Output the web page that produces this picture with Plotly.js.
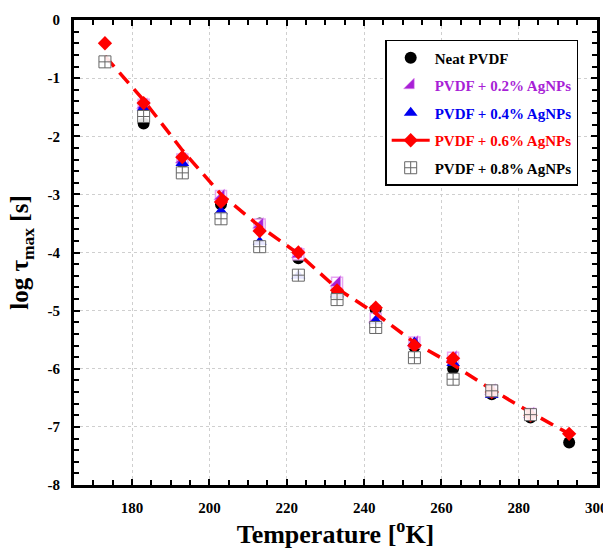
<!DOCTYPE html>
<html>
<head>
<meta charset="utf-8">
<script src="https://cdn.plot.ly/plotly-3.0.1.min.js"></script>
<style>html,body{margin:0;padding:0;background:#fff;}#chart{width:603px;height:551px;}</style>
</head>
<body>
<div id="chart"></div>
<script>
// Temperatures [K]
const tempsAll = [173,183,193,203,213,223,233,243,253,263,273,283,293];
const tempsNeat = [183,193,203,213,223,233,243,253,263,273,283,293];
const tempsP02 = [183,193,203,213,223,233,243,253,263,273,283];
const tempsP04 = [183,193,203,213,223,233,243,253,263,273];
const tempsP06 = [173,183,193,203,213,223,233,243,253,263,273,283,293];
const tempsP08 = [173,183,193,203,213,223,233,243,253,263,273,283];

// log tau_max [s]
const neatPVDF = [-1.78,-2.45,-3.17,-3.50,-4.10,-4.72,-4.98,-5.62,-6.00,-6.44,-6.84,-7.27];
const pvdf02 = [-1.46,-2.40,-3.03,-3.52,-4.03,-4.52,-5.14,-5.55,-5.81,-6.38,-6.78];
const pvdf04 = [-1.51,-2.46,-3.29,-3.82,-4.40,-4.72,-5.18,-5.55,-5.90,-6.45];
const pvdf06 = [-0.40,-1.43,-2.36,-3.13,-3.63,-4.00,-4.65,-4.95,-5.60,-5.82,-6.40,-6.80,-7.12];
const pvdf08 = [-0.72,-1.66,-2.63,-3.42,-3.90,-4.39,-4.81,-5.29,-5.81,-6.18,-6.38,-6.79];
const fitLine06 = [-0.62,-1.38,-2.24,-3.00,-3.55,-4.02,-4.62,-5.05,-5.55,-5.93,-6.36,-6.75,-7.12];

// Tick labels
const xTickVals = [180,200,220,240,260,280,300];
const xTickText = ['180','200','220','240','260','280','300'];
const yTickVals = [0,-1,-2,-3,-4,-5,-6,-7,-8];
const yTickText = ['0','-1','-2','-3','-4','-5','-6','-7','-8'];

const names = ['Neat PVDF','PVDF + 0.2% AgNPs','PVDF + 0.4% AgNPs','PVDF + 0.6% AgNPs','PVDF + 0.8% AgNPs'];
const PURPLE = '#a81fd6', PINK = '#e7a6f2', BLUE = '#0000f0', RED = '#ff0000';
const FONT = 'Liberation Serif, Times New Roman, serif';

function lbl(name, color){ return '<span style="color:' + color + '">' + name + '</span>'; }

const traces = [
  { x: tempsNeat, y: neatPVDF, mode: 'markers', name: lbl(names[0], '#000'),
    legendgroup: 'g0', legendrank: 1,
    marker: { symbol: 'circle', size: 12, color: '#000' } },
  { x: tempsP02, y: pvdf02, mode: 'markers', showlegend: false, legendgroup: 'g1',
    marker: { symbol: 'square', size: 11, color: '#fff', line: { color: PINK, width: 1.5 } } },
  { x: tempsP02, y: pvdf02, mode: 'markers', name: lbl(names[1], PURPLE),
    legendgroup: 'g1', legendrank: 2,
    marker: { symbol: 'triangle-se', size: 12, color: PURPLE, line: { color: PINK, width: 0.5 } } },
  { x: tempsP04, y: pvdf04, mode: 'markers', name: lbl(names[2], BLUE),
    legendgroup: 'g2', legendrank: 3,
    marker: { symbol: 'triangle-up', size: 12, color: BLUE } },
  { x: tempsAll, y: fitLine06, mode: 'lines', showlegend: false, legendgroup: 'g3',
    line: { color: RED, width: 3.5, dash: '14px,8px' } },
  { x: tempsP06, y: pvdf06, mode: 'markers', showlegend: false, legendgroup: 'g3',
    marker: { symbol: 'diamond', size: 11, color: RED } },
  { x: [null], y: [null], mode: 'lines+markers', name: lbl(names[3], RED),
    legendgroup: 'g3', legendrank: 4,
    line: { color: RED, width: 3 }, marker: { symbol: 'diamond', size: 11, color: RED } },
  { x: tempsP08, y: pvdf08, mode: 'markers', name: lbl(names[4], '#000'),
    legendgroup: 'g4', legendrank: 5,
    marker: { symbol: 'square-cross', size: 12, color: 'rgba(255,255,255,0.9)', line: { color: '#666', width: 1 } } }
];

const layout = {
  width: 603, height: 551,
  margin: { l: 74, r: 6, t: 20, b: 66 },
  paper_bgcolor: '#fff', plot_bgcolor: '#fff',
  font: { family: FONT, color: '#000' },
  showlegend: true,
  legend: {
    x: 0.595, y: 0.957, xanchor: 'left', yanchor: 'top',
    bgcolor: '#fff', bordercolor: '#000', borderwidth: 1.5,
    font: { family: FONT, size: 15, weight: 700, color: '#000' },
    traceorder: 'grouped', tracegroupgap: 5, itemwidth: 38
  },
  xaxis: {
    range: [165, 300.2],
    tickvals: xTickVals, ticktext: xTickText,
    ticks: 'inside', ticklen: 6, tickwidth: 2, tickcolor: '#000',
    minor: { dtick: 5, tick0: 180, ticks: 'inside', ticklen: 5, tickwidth: 2, tickcolor: '#000', showgrid: false },
    showline: true, linecolor: '#000', linewidth: 3, mirror: 'allticks',
    showgrid: true, gridcolor: '#cfcfcf', griddash: 'dot', gridwidth: 1,
    zeroline: false,
    tickfont: { family: FONT, size: 15, weight: 700, color: '#000' },
    ticklabelstandoff: 7, ticklabeloverflow: 'allow',
    title: { text: 'Temperature [<sup>o</sup>K]', font: { family: FONT, size: 26, weight: 700, color: '#000' }, standoff: 6 }
  },
  yaxis: {
    range: [-8, 0],
    tickvals: yTickVals, ticktext: yTickText,
    ticks: 'inside', ticklen: 6, tickwidth: 2, tickcolor: '#000',
    minor: { dtick: 0.2, tick0: 0, ticks: 'inside', ticklen: 5, tickwidth: 2, tickcolor: '#000', showgrid: false },
    showline: true, linecolor: '#000', linewidth: 3, mirror: 'allticks',
    showgrid: true, gridcolor: '#cfcfcf', griddash: 'dot', gridwidth: 1,
    zeroline: false,
    tickfont: { family: FONT, size: 15, weight: 700, color: '#000' },
    ticklabelstandoff: 8,
    title: { text: 'log τ<sub>max</sub> [s]', font: { family: FONT, size: 25, weight: 700, color: '#000' }, standoff: 12 }
  }
};

Plotly.newPlot('chart', traces, layout, { displayModeBar: false, staticPlot: true });
</script>
</body>
</html>
